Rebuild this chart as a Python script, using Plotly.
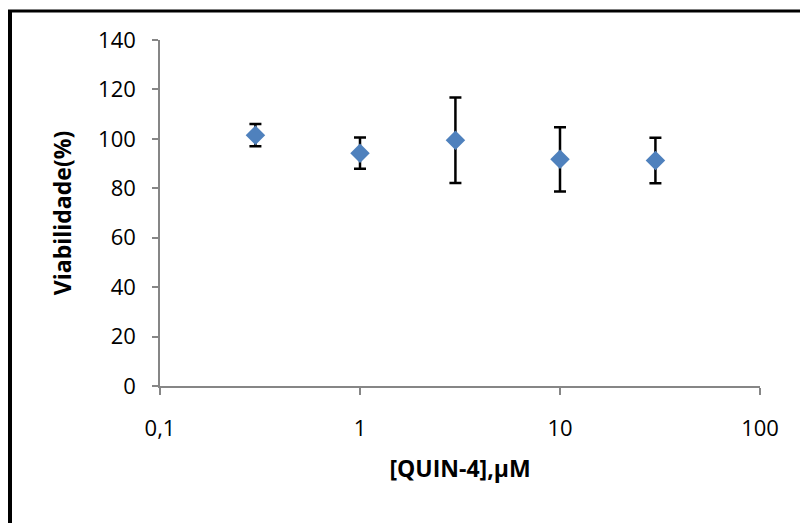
import plotly.graph_objects as go

# Concentration of QUIN-4 (µM) and cell viability (%) with standard deviation
concentration = [0.3, 1, 3, 10, 30]
viability = [101.5, 94.2, 99.4, 91.7, 91.2]
viability_sd = [4.5, 6.3, 17.3, 13.0, 9.2]

x_tickvals = [0.1, 1, 10, 100]
x_ticktext = ["0,1", "1", "10", "100"]
y_tickvals = [0, 20, 40, 60, 80, 100, 120, 140]

FONT = "Open Sans"
AXIS_GRAY = "#868686"

fig = go.Figure()
fig.add_trace(go.Scatter(
    x=concentration,
    y=viability,
    mode="markers",
    marker=dict(symbol="diamond", size=15, color="#4F81BD", line=dict(width=0)),
    error_y=dict(type="data", array=viability_sd, visible=True,
                 color="black", thickness=2.5, width=6),
    showlegend=False,
))

# plot area in pixels: x 160..760, y 40..386
L, R, T, B = 160, 40, 40, 137
W, H = 800, 523
pw, ph = W - L - R, H - T - B

def px(x):
    return (x - L) / pw

def py(y):
    return (H - B - y) / ph

fig.update_layout(
    width=W, height=H,
    margin=dict(l=L, r=R, t=T, b=B, autoexpand=False),
    paper_bgcolor="white", plot_bgcolor="white",
    font=dict(family=FONT, color="black", size=22),
    xaxis=dict(
        type="log", range=[-1, 2],
        tickvals=x_tickvals, ticktext=x_ticktext,
        showline=True, linecolor=AXIS_GRAY, linewidth=1.5,
        ticks="outside", ticklen=7, tickcolor=AXIS_GRAY, tickwidth=1.5,
        showgrid=False, zeroline=False,
        ticklabelstandoff=15,
        tickfont=dict(size=22, family=FONT),
        title=dict(text="<b>[QUIN-4],µM</b>", font=dict(size=23, family=FONT), standoff=20),
        automargin=False,
    ),
    yaxis=dict(
        range=[0, 140], tickvals=y_tickvals,
        showline=True, linecolor=AXIS_GRAY, linewidth=1.5,
        ticks="outside", ticklen=6, tickcolor=AXIS_GRAY, tickwidth=1.5,
        showgrid=False, zeroline=False,
        ticklabelstandoff=12,
        tickfont=dict(size=22, family=FONT),
        title=dict(text="<b>Viabilidade(%)</b>", font=dict(size=23, family=FONT), standoff=20),
        automargin=False,
    ),
    shapes=[
        # chart frame (top and left edges)
        dict(type="line", xref="paper", yref="paper",
             x0=px(8), x1=px(800), y0=py(11), y1=py(11),
             line=dict(color="black", width=3)),
        dict(type="line", xref="paper", yref="paper",
             x0=px(10), x1=px(10), y0=py(10), y1=py(523),
             line=dict(color="black", width=4)),
    ],
)

fig.write_html("out.html")
